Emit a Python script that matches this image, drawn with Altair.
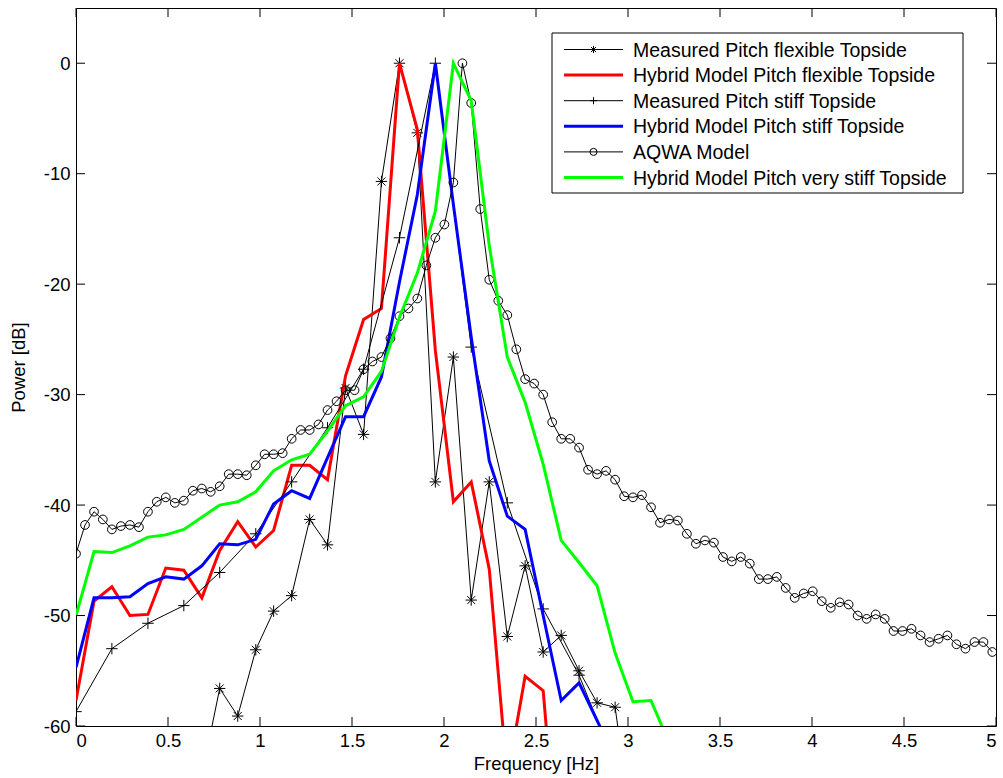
import altair as alt
import pandas as pd

# Frequency grid of the hybrid / measured spectra (Hz)
GRID = [0.000, 0.098, 0.195, 0.293, 0.391, 0.488, 0.586, 0.684, 0.781, 0.879,
        0.977, 1.074, 1.172, 1.270, 1.367, 1.465, 1.563, 1.660, 1.758, 1.855,
        1.953, 2.051, 2.148, 2.246, 2.344, 2.441, 2.539, 2.637, 2.734, 2.832,
        2.930, 3.027, 3.125, 3.223]

# Measured pitch, flexible topside (asterisks)
meas_flex_f = GRID[7:32]
meas_flex_p = [-64.5, -56.6, -59.1, -53.1, -49.6, -48.2, -41.3, -43.6, -29.4, -33.6,
               -10.7, 0.0, -6.3, -37.9, -26.6, -48.6, -37.9, -51.9, -45.5, -53.3,
               -51.8, -55.0, -57.9, -58.3, -70.0]

# Hybrid model pitch, flexible topside (red)
hyb_flex_f = GRID[0:28]
hyb_flex_p = [-57.7, -48.7, -47.4, -50.0, -49.9, -45.7, -45.9, -48.4, -44.1, -41.5,
              -43.8, -42.3, -36.4, -36.4, -37.7, -28.3, -23.2, -22.2, 0.0, -6.0,
              -26.0, -39.7, -37.9, -45.8, -64.7, -55.5, -56.8, -76.0]

# Measured pitch, stiff topside (plus signs)
meas_stiff_f = [0.000, 0.195, 0.391, 0.586, 0.781, 0.977, 1.172, 1.367, 1.563, 1.758,
                1.953, 2.148, 2.344, 2.539, 2.734, 2.930]
meas_stiff_p = [-58.7, -53.0, -50.7, -49.1, -46.1, -42.6, -37.9, -33.0, -27.7, -15.8,
                0.0, -25.7, -39.8, -49.4, -55.4, -63.5]

# Hybrid model pitch, stiff topside (blue)
hyb_stiff_f = GRID[0:31]
hyb_stiff_p = [-54.7, -48.4, -48.4, -48.3, -47.1, -46.5, -46.7, -45.5, -43.5, -43.6,
               -43.1, -39.9, -38.7, -39.4, -35.7, -32.0, -32.0, -28.4, -19.8, -11.9,
               0.0, -12.8, -24.8, -36.0, -41.0, -42.2, -50.0, -57.7, -56.1, -59.5,
               -63.0]

# AQWA model (circles)
aqwa_f = [0.000, 0.049, 0.098, 0.146, 0.195, 0.244, 0.293, 0.342, 0.391, 0.439,
          0.488, 0.537, 0.586, 0.635, 0.684, 0.732, 0.781, 0.830, 0.879, 0.928,
          0.977, 1.025, 1.074, 1.123, 1.172, 1.221, 1.270, 1.318, 1.367, 1.416,
          1.465, 1.514, 1.563, 1.611, 1.660, 1.709, 1.758, 1.807, 1.855, 1.904,
          1.953, 2.002, 2.051, 2.100, 2.148, 2.197, 2.246, 2.295, 2.344, 2.393,
          2.441, 2.490, 2.539, 2.588, 2.637, 2.686, 2.734, 2.783, 2.832, 2.881,
          2.930, 2.979, 3.027, 3.076, 3.125, 3.174, 3.223, 3.271, 3.320, 3.369,
          3.418, 3.467, 3.516, 3.564, 3.613, 3.662, 3.711, 3.760, 3.809, 3.857,
          3.906, 3.955, 4.004, 4.053, 4.102, 4.150, 4.199, 4.248, 4.297, 4.346,
          4.395, 4.443, 4.492, 4.541, 4.590, 4.639, 4.688, 4.736, 4.785, 4.834,
          4.883, 4.932, 4.980]
aqwa_p = [-44.4, -41.8, -40.6, -41.3, -42.2, -41.9, -41.8, -42.0, -40.6, -39.7,
          -39.3, -39.8, -39.6, -38.7, -38.5, -38.8, -38.3, -37.2, -37.2, -37.3,
          -36.4, -35.4, -35.4, -35.3, -34.0, -33.2, -33.2, -32.7, -31.4, -30.6,
          -29.6, -29.6, -27.7, -27.0, -26.6, -24.9, -22.9, -22.2, -21.3, -18.3,
          -15.8, -14.6, -10.8, 0.0, -3.6, -13.2, -19.6, -21.5, -22.8, -25.9,
          -28.6, -29.0, -30.0, -32.5, -34.0, -34.0, -34.8, -36.8, -37.2, -36.9,
          -37.7, -39.2, -39.3, -39.1, -40.2, -41.6, -41.3, -41.4, -42.6, -43.5,
          -43.2, -43.4, -44.7, -45.1, -44.7, -45.3, -46.7, -46.7, -46.5, -47.5,
          -48.4, -48.0, -47.8, -48.7, -49.3, -48.8, -49.0, -50.0, -50.3, -49.9,
          -50.3, -51.4, -51.4, -51.2, -51.8, -52.4, -52.1, -51.8, -52.6, -53.0,
          -52.4, -52.4, -53.3]

# Hybrid model pitch, very stiff topside (green)
hyb_vstiff_f = GRID[0:34]
hyb_vstiff_p = [-50.0, -44.2, -44.3, -43.7, -42.9, -42.7, -42.2, -41.1, -40.0, -39.7,
                -38.8, -36.9, -35.9, -35.4, -33.3, -31.0, -30.2, -27.9, -23.0, -19.0,
                -13.4, 0.0, -3.4, -16.5, -26.6, -30.7, -36.3, -43.2, -45.2, -47.3,
                -53.4, -57.8, -57.7, -61.5]

x_ticks = [0, 0.5, 1, 1.5, 2, 2.5, 3, 3.5, 4, 4.5, 5]
y_ticks = [0, -10, -20, -30, -40, -50, -60]

legend_labels = ["Measured Pitch flexible Topside",
                 "Hybrid Model Pitch flexible Topside",
                 "Measured Pitch stiff Topside",
                 "Hybrid Model Pitch stiff Topside",
                 "AQWA Model",
                 "Hybrid Model Pitch very stiff Topside"]

W, H = 920, 718
FONT = "Liberation Sans"
STAR = "M-1,0L1,0M0,-1L0,1M-0.7,-0.7L0.7,0.7M-0.7,0.7L0.7,-0.7"
PLUS = "M-1,0L1,0M0,-1L0,1"

# axis title offsets are relative to each axis group
X = alt.X("f:Q", scale=alt.Scale(domain=[0, 5], nice=False, zero=False),
          axis=alt.Axis(values=x_ticks, labelExpr="'' + datum.value", ticks=False,
                        domain=False, grid=False, labelPadding=5,
                        title="Frequency [Hz]", titleX=W / 2, titleY=28,
                        titleBaseline="top"))
Y = alt.Y("p:Q", scale=alt.Scale(domain=[-60, 5], nice=False, zero=False),
          axis=alt.Axis(values=y_ticks, labelExpr="'' + datum.value", ticks=False,
                        domain=False, grid=False, labelPadding=6,
                        title="Power [dB]", titleX=-58, titleY=H / 2,
                        titleAngle=270, titleAlign="center",
                        titleBaseline="middle"))


def frame(f, p):
    return pd.DataFrame({"f": f, "p": p})


def series(f, p, color, width, shape=None, size=None):
    base = alt.Chart(frame(f, p))
    line = base.mark_line(color=color, strokeWidth=width, clip=True).encode(x=X, y=Y)
    if shape is None:
        return [line]
    pts = base.mark_point(shape=shape, size=size, filled=False, color=color,
                          strokeWidth=1, clip=True, opacity=1).encode(x=X, y=Y)
    return [line, pts]


layers = []
layers += series(meas_flex_f, meas_flex_p, "black", 1, STAR, 130)
layers += series(hyb_flex_f, hyb_flex_p, "#ff0000", 3)
layers += series(meas_stiff_f, meas_stiff_p, "black", 1, PLUS, 130)
layers += series(hyb_stiff_f, hyb_stiff_p, "#0000ff", 3)
layers += series(aqwa_f, aqwa_p, "black", 1, "circle", 76)
layers += series(hyb_vstiff_f, hyb_vstiff_p, "#00ff00", 3)

# inward ticks on all four sides of the box
xt = pd.DataFrame({"f": x_ticks})
yt = pd.DataFrame({"p": y_ticks})
TL = 9
layers.append(alt.Chart(xt).mark_rule(color="black", strokeWidth=1).encode(
    x=X, y=alt.value(H), y2=alt.value(H - TL)))
layers.append(alt.Chart(xt).mark_rule(color="black", strokeWidth=1).encode(
    x=X, y=alt.value(0), y2=alt.value(TL)))
layers.append(alt.Chart(yt).mark_rule(color="black", strokeWidth=1).encode(
    y=Y, x=alt.value(0), x2=alt.value(TL)))
layers.append(alt.Chart(yt).mark_rule(color="black", strokeWidth=1).encode(
    y=Y, x=alt.value(W), x2=alt.value(W - TL)))

# legend box
one = pd.DataFrame({"f": [0]})
layers.append(alt.Chart(one).mark_rect(fill="white", stroke="black", strokeWidth=1).encode(
    x=alt.value(476), x2=alt.value(887), y=alt.value(25), y2=alt.value(185)))

legend_style = [("black", 1, STAR, 50), ("#ff0000", 3, None, None),
                ("black", 1, PLUS, 50), ("#0000ff", 3, None, None),
                ("black", 1, "circle", 50), ("#00ff00", 3, None, None)]
for i, (label, (color, width, shape, size)) in enumerate(zip(legend_labels, legend_style)):
    ly = 41.5 + i * 25.6
    layers.append(alt.Chart(one).mark_rule(color=color, strokeWidth=width).encode(
        x=alt.value(488), x2=alt.value(547), y=alt.value(ly)))
    if shape is not None:
        layers.append(alt.Chart(one).mark_point(shape=shape, size=size, filled=False,
                                                color=color, strokeWidth=1, opacity=1).encode(
            x=alt.value(517.5), y=alt.value(ly)))
    layers.append(alt.Chart(one).mark_text(text=label, align="left", baseline="middle",
                                           font=FONT, fontSize=19.5, color="black").encode(
        x=alt.value(557), y=alt.value(ly + 1)))

chart = alt.layer(*layers).properties(
    width=W, height=H,
    autosize=alt.AutoSizeParams(type="none"),
    padding={"left": 76, "top": 8, "right": 7, "bottom": 52},
).configure_view(stroke="black", strokeWidth=1).configure_axis(
    labelFont=FONT, labelFontSize=18.5, labelColor="black",
    titleFont=FONT, titleFontSize=18.5, titleFontWeight="normal", titleColor="black",
)

chart.save("out.html", embed_options={"renderer": "svg", "actions": False})
